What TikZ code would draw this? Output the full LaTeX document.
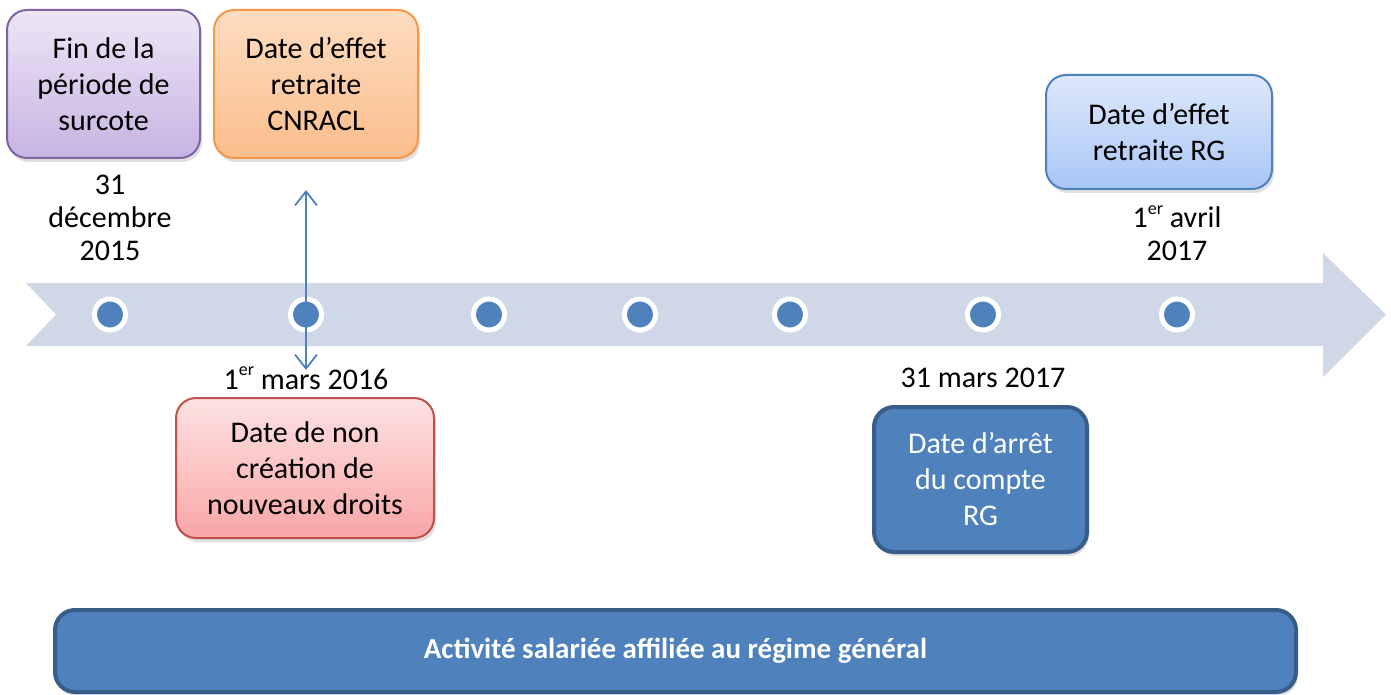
\documentclass[tikz,border=0pt]{standalone}
\usepackage{fontspec}
\setmainfont{Carlito}
\usepackage{tikz}
\usetikzlibrary{positioning, arrows.meta, shadows}

\definecolor{bandcol}{HTML}{D0D8E8}
\definecolor{dotcol}{HTML}{4F81BD}
\definecolor{darkline}{HTML}{385D8A}
\definecolor{purpletop}{HTML}{EDE6F6}
\definecolor{purplebot}{HTML}{C7B3E1}
\definecolor{purpleline}{HTML}{8064A2}
\definecolor{orangetop}{HTML}{FDDCC0}
\definecolor{orangebot}{HTML}{FBBE8C}
\definecolor{orangeline}{HTML}{F79646}
\definecolor{bluetop}{HTML}{DEE8FA}
\definecolor{bluebot}{HTML}{A9C6F6}
\definecolor{redtop}{HTML}{FDE2E2}
\definecolor{redbot}{HTML}{F9A6A6}
\definecolor{redline}{HTML}{C0504D}

\tikzset{
  box/.style={rounded corners=10pt, align=center, inner sep=2pt,
    font=\fontsize{15}{18}\selectfont, line width=1pt,
    drop shadow={opacity=0.25, shadow xshift=1pt, shadow yshift=-2pt}},
  datelbl/.style={align=center, font=\fontsize{15}{16.5}\selectfont},
  dot/.style={circle, fill=dotcol, draw=white, line width=2.5pt,
    minimum size=15.5pt, inner sep=0pt},
  barbs/.style={arrows={Straight Barb[length=7pt,width=11pt]-Straight Barb[length=7pt,width=11pt]}}
}
\newcommand{\er}{\raisebox{0.45em}{\fontsize{9}{9}\selectfont er}}

\begin{document}
\begin{tikzpicture}[x=0.5pt, y=-0.5pt]
    \useasboundingbox (0,0) rectangle (1391,695);

    \fill[bandcol] (26,283) -- (1323,283) -- (1323,253) -- (1386,314.5)
      -- (1323,377) -- (1323,346) -- (26,346) -- (56,314.5) -- cycle;

    \foreach \name/\xpos in {d1/110, d2/306, d3/489, d4/640, d5/790, d6/983, d7/1177}
      \node(\name)[dot] at (\xpos,314.5) {};

    \node(surcote)[box, draw=purpleline, top color=purpletop, bottom color=purplebot,
      minimum width=96.5pt, minimum height=74pt] at (103.5,84)
      {Fin de la\\période de\\surcote};
    \node(cnracl)[box, draw=orangeline, top color=orangetop, bottom color=orangebot,
      minimum width=102pt, minimum height=74pt] at (316,84)
      {Date d’effet\\retraite\\CNRACL};
    \node(effetrg)[box, draw=dotcol, top color=bluetop, bottom color=bluebot,
      minimum width=113pt, minimum height=57pt] at (1159,132)
      {Date d’effet\\retraite RG};
    \node(nondroits)[box, draw=redline, top color=redtop, bottom color=redbot,
      minimum width=129pt, minimum height=70pt] at (305,468)
      {Date de non\\création de\\nouveaux droits};
    \node(arret)[box, draw=darkline, fill=dotcol, text=white, line width=2pt,
      minimum width=106.5pt, minimum height=72.5pt] at (980.5,479.5)
      {Date d’arrêt\\du compte\\RG};
    \node(activite)[box, draw=darkline, fill=dotcol, text=white, line width=2pt,
      font=\fontsize{14.5}{16}\selectfont\bfseries,
      minimum width=620.5pt, minimum height=41pt] at (675.5,651)
      {Activité salariée affiliée au régime général};

    \node(lbl1)[datelbl] at (110,218) {31\\décembre\\2015};
    \node(lbl2)[datelbl] at (306,378) {1\er{} mars 2016};
    \node(lbl6)[datelbl] at (983,378) {31 mars 2017};
    \node(lbl7)[datelbl] at (1177,233) {1\er{} avril\\2017};

    \coordinate(up) at (306,190);
    \coordinate(down) at (306,370);
    \path[dotcol, line width=0.9pt,
    every edge/.append style=barbs]

    (up) edge (down)
    ;
  \end{tikzpicture}
\end{document}
